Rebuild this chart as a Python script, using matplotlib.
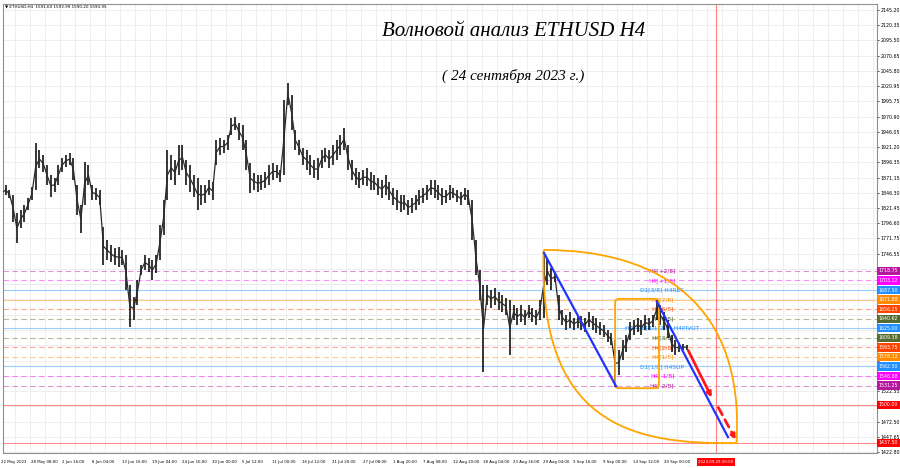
import numpy as np
import matplotlib.pyplot as plt
from matplotlib.path import Path
from matplotlib.patches import PathPatch, FancyBboxPatch

# ETHUSD H4, grouped by 4 bars (16h): high / low
hi = [1867, 1859, 1851, 1843, 1813, 1818, 1826, 1838, 1856, 1928,
      1916, 1908, 1892, 1876, 1871, 1892, 1903, 1908, 1911, 1903,
      1859, 1826, 1897, 1892, 1859, 1854, 1851, 1790, 1769, 1761,
      1756, 1758, 1753, 1745, 1696, 1676, 1704, 1728, 1745, 1740,
      1736, 1745, 1794, 1835, 1916, 1908, 1900, 1924, 1924, 1900,
      1892, 1876, 1871, 1859, 1859, 1867, 1864, 1933, 1936, 1933,
      1941, 1969, 1970, 1961, 1957, 1933, 1895, 1879, 1876, 1876,
      1880, 1892, 1895, 1892, 1884, 1998, 2026, 2006, 1949, 1933,
      1920, 1916, 1908, 1900, 1903, 1916, 1920, 1916, 1924, 1933,
      1941, 1952, 1924, 1900, 1887, 1880, 1884, 1887, 1880, 1876,
      1871, 1867, 1876, 1864, 1854, 1851, 1843, 1843, 1835, 1838,
      1843, 1851, 1854, 1859, 1867, 1867, 1859, 1854, 1851, 1859,
      1854, 1851, 1848, 1854, 1851, 1835, 1769, 1720, 1696, 1696,
      1688, 1691, 1684, 1679, 1674, 1671, 1663, 1658, 1663, 1655,
      1663, 1658, 1655, 1671, 1748, 1740, 1724, 1717, 1679, 1655,
      1647, 1652, 1642, 1647, 1645, 1642, 1652, 1645, 1642, 1635,
      1630, 1622, 1617, 1606, 1589, 1606, 1614, 1635, 1639, 1642,
      1639, 1647, 1642, 1647, 1671, 1663, 1652, 1639, 1614, 1606,
      1601, 1599, 1598]
lo = [1826, 1843, 1838, 1799, 1764, 1789, 1799, 1818, 1835, 1851,
      1887, 1880, 1859, 1840, 1848, 1859, 1880, 1889, 1892, 1867,
      1810, 1781, 1826, 1859, 1835, 1835, 1826, 1728, 1736, 1733,
      1728, 1725, 1728, 1688, 1627, 1638, 1663, 1712, 1720, 1717,
      1704, 1715, 1736, 1777, 1835, 1867, 1859, 1875, 1884, 1859,
      1848, 1840, 1818, 1826, 1830, 1843, 1835, 1892, 1908, 1911,
      1916, 1941, 1949, 1933, 1916, 1884, 1846, 1851, 1848, 1851,
      1854, 1859, 1867, 1871, 1864, 1876, 1990, 1949, 1916, 1908,
      1892, 1884, 1876, 1871, 1867, 1887, 1897, 1887, 1892, 1900,
      1908, 1916, 1884, 1867, 1859, 1854, 1859, 1857, 1851, 1851,
      1843, 1838, 1843, 1835, 1826, 1818, 1815, 1818, 1810, 1813,
      1818, 1826, 1830, 1835, 1843, 1838, 1835, 1826, 1830, 1835,
      1838, 1831, 1826, 1835, 1826, 1769, 1712, 1671, 1553, 1663,
      1658, 1663, 1655, 1652, 1647, 1581, 1639, 1630, 1635, 1630,
      1642, 1635, 1630, 1639, 1642, 1696, 1688, 1701, 1639, 1630,
      1622, 1625, 1622, 1625, 1622, 1619, 1627, 1622, 1617, 1614,
      1611, 1603, 1598, 1529, 1549, 1573, 1586, 1606, 1614, 1619,
      1614, 1622, 1622, 1627, 1639, 1630, 1622, 1609, 1586, 1581,
      1586, 1589, 1590]
GROUP = 4  # bars per entry

date_labels = ['22 May 2023', '28 May 08:00', '2 Jun 16:00', '8 Jun 04:00', '13 Jun 16:00',
               '19 Jun 04:00', '24 Jun 16:00', '30 Jun 00:00', '5 Jul 12:00', '11 Jul 00:00',
               '16 Jul 12:00', '21 Jul 20:00', '27 Jul 08:00', '1 Aug 20:00', '7 Aug 08:00',
               '12 Aug 20:00', '18 Aug 04:00', '23 Aug 16:00', '29 Aug 04:00', '3 Sep 16:00',
               '9 Sep 00:00', '14 Sep 12:00', '20 Sep 00:00']
price_ticks = [2145.20, 2120.35, 2095.50, 2070.65, 2045.80, 2020.95, 1995.75, 1970.90,
               1946.05, 1921.20, 1896.35, 1871.15, 1846.30, 1821.45, 1796.60, 1771.75,
               1746.55, 1721.70, 1696.85, 1672.00, 1647.15, 1622.30, 1597.10, 1572.25,
               1547.40, 1522.55, 1497.70, 1472.50, 1447.65, 1422.80]

# murrey levels
levels = [1718.75, 1703.12, 1687.50, 1671.88, 1656.25, 1640.62, 1625.00, 1609.38,
          1593.75, 1578.12, 1562.50, 1546.88, 1531.25, 1500.00, 1437.50]
level_names = ['H4[+2/8]', 'H4[+1/8]', 'D1[3/8] H4RES', 'H4[7/8]', 'H4[6/8]', 'H4[5/8]',
               'H4[4/8] D1[2/8] H4PIVOT', 'H4[3/8]', 'H4[2/8]', 'H4[1/8]', 'D1[1/8] H4SUP',
               'H4[-1/8]', 'H4[-2/8]', '', '']
level_colors = ['#b5179e', '#ff00ff', '#1e90ff', '#ff8c00', '#ff4500', '#556b2f', '#1e90ff',
                '#556b2f', '#ff4500', '#ff8c00', '#1e90ff', '#ff00ff', '#b5179e', '#ff0000', '#ff0000']
level_dashed = [1, 1, 0, 0, 1, 1, 0, 1, 1, 1, 0, 1, 1, 0, 0]

header = 'ETHUSD,H4  1591.60 1593.99 1590.20 1590.95'
title1 = 'Волновой анализ ETHUSD H4'
title2 = '( 24 сентября 2023 г.)'
marker_date = '2023.09.29 20:00'
marker_bar = 761

# hand drawn objects, (bar, price)
lens_top = (578, 1753)
lens_bot = (783, 1437.5)
lens_left = [(572, 1470), (670, 1434)]
lens_right = [(702, 1753), (792, 1663)]
box_x = (654, 700.6)
box_y = (1527, 1673)
wave1 = [(578.4, 1748), (654.9, 1530.4)]
wave2 = [(698.5, 1668), (774, 1447)]
arrow_solid = [(730.4, 1592.7), (758, 1507.7)]
arrow_dash = [(762.3, 1499.5), (783.5, 1439)]

W, H = 900, 468
fig = plt.figure(figsize=(9, 4.68), dpi=100)
ax = fig.add_axes([3 / W, (H - 453) / H, 874 / W, 449 / H])
ax.set_xlim(3.2, 932.4)
ax.set_ylim(1421.1, 2155.0)

# grid
for b in range(0, 940, 16):
    ax.axvline(b, color='#ebebeb', lw=0.6, zorder=0)
for p in price_ticks:
    ax.axhline(p, color='#ebebeb', lw=0.6, zorder=0)

# level lines + names
for lv, nm, c, d in zip(levels, level_names, level_colors, level_dashed):
    ax.axhline(lv, color=c, alpha=0.45, lw=0.8, ls=(0, (5, 3)) if d else '-', zorder=1)
    if nm:
        ax.text(704, lv, nm, color=c, fontsize=4.2, ha='center', va='center', zorder=1.5)

# price bars
x = np.arange(len(hi)) * GROUP + GROUP / 2
hi_a, lo_a = np.array(hi), np.array(lo)
ax.vlines(x, lo_a, hi_a, color='black', lw=1.1, zorder=3)
ax.plot(x, (hi_a + lo_a) / 2, color='#2a2a2a', lw=0.9, zorder=3)

ax.axvline(marker_bar, color='#ff8080', lw=0.8, zorder=2)

# lens
c = '#ffa500'
verts = [lens_top, lens_left[0], lens_left[1], lens_bot,
         lens_right[1], lens_right[0], lens_top]
codes = [Path.MOVETO, Path.CURVE4, Path.CURVE4, Path.CURVE4,
         Path.CURVE4, Path.CURVE4, Path.CURVE4]
ax.add_patch(PathPatch(Path(verts, codes), fc='none', ec=c, lw=1.3, zorder=4))
ax.add_patch(FancyBboxPatch((box_x[0], box_y[0]), box_x[1] - box_x[0], box_y[1] - box_y[0],
                            boxstyle='round,pad=0,rounding_size=4', mutation_aspect=1.54,
                            fc='none', ec=c, lw=1.3, zorder=4))

for seg in (wave1, wave2):
    ax.plot([seg[0][0], seg[1][0]], [seg[0][1], seg[1][1]], color='#2233ff', lw=1.6, zorder=5)
ax.annotate('', xy=arrow_solid[1], xytext=arrow_solid[0],
            arrowprops=dict(arrowstyle='-|>', color='#ff1a1a', lw=2, mutation_scale=7), zorder=6)
ax.annotate('', xy=arrow_dash[1], xytext=arrow_dash[0],
            arrowprops=dict(arrowstyle='-|>', color='#ff1a1a', lw=2, ls=(0, (3, 2)),
                            mutation_scale=7), zorder=6)

# axes cosmetics
for s in ax.spines.values():
    s.set_color('#909090')
    s.set_linewidth(0.8)
ax.set_xticks([])
ax.yaxis.tick_right()
ax.set_yticks(price_ticks)
# tick values hidden under a level box are left blank
ax.set_yticklabels(['' if min(abs(p - lv) for lv in levels) < 8 else f'{p:.2f}'
                    for p in price_ticks])
ax.tick_params(axis='y', labelsize=3.4, length=1.5, pad=1.0, colors='black', width=0.5)

for lv, c in zip(levels, level_colors):
    ax.annotate(f'{lv:.2f}', xy=(1, lv), xycoords=('axes fraction', 'data'),
                xytext=(1.2, 0), textcoords='offset points', fontsize=3.4, color='white',
                va='center', ha='left', annotation_clip=False, zorder=10,
                bbox=dict(boxstyle='square,pad=0.35', fc=c, ec='none'))

for k, lab in enumerate(date_labels):
    ax.annotate(lab, xy=(32 * k, 0), xycoords=('data', 'axes fraction'),
                xytext=(1, -6.5), textcoords='offset points', fontsize=2.8,
                ha='left', va='center', annotation_clip=False)
ax.annotate(marker_date, xy=(marker_bar, 0), xycoords=('data', 'axes fraction'),
            xytext=(0, -6.5), textcoords='offset points', fontsize=2.9, color='white',
            ha='center', va='center', annotation_clip=False,
            bbox=dict(boxstyle='square,pad=0.4', fc='#ff0000', ec='none'))

fig.text(5 / W, 1 - 7 / H, '\u25bc ' + header, fontsize=3.0, va='center', ha='left')
fig.text(514 / W, 1 - 32 / H, title1, fontsize=15, style='italic',
         family='Liberation Serif', ha='center', va='center')
fig.text(513 / W, 1 - 76 / H, title2, fontsize=11, style='italic',
         family='Liberation Serif', ha='center', va='center')

fig.savefig('out.png', dpi=100)
